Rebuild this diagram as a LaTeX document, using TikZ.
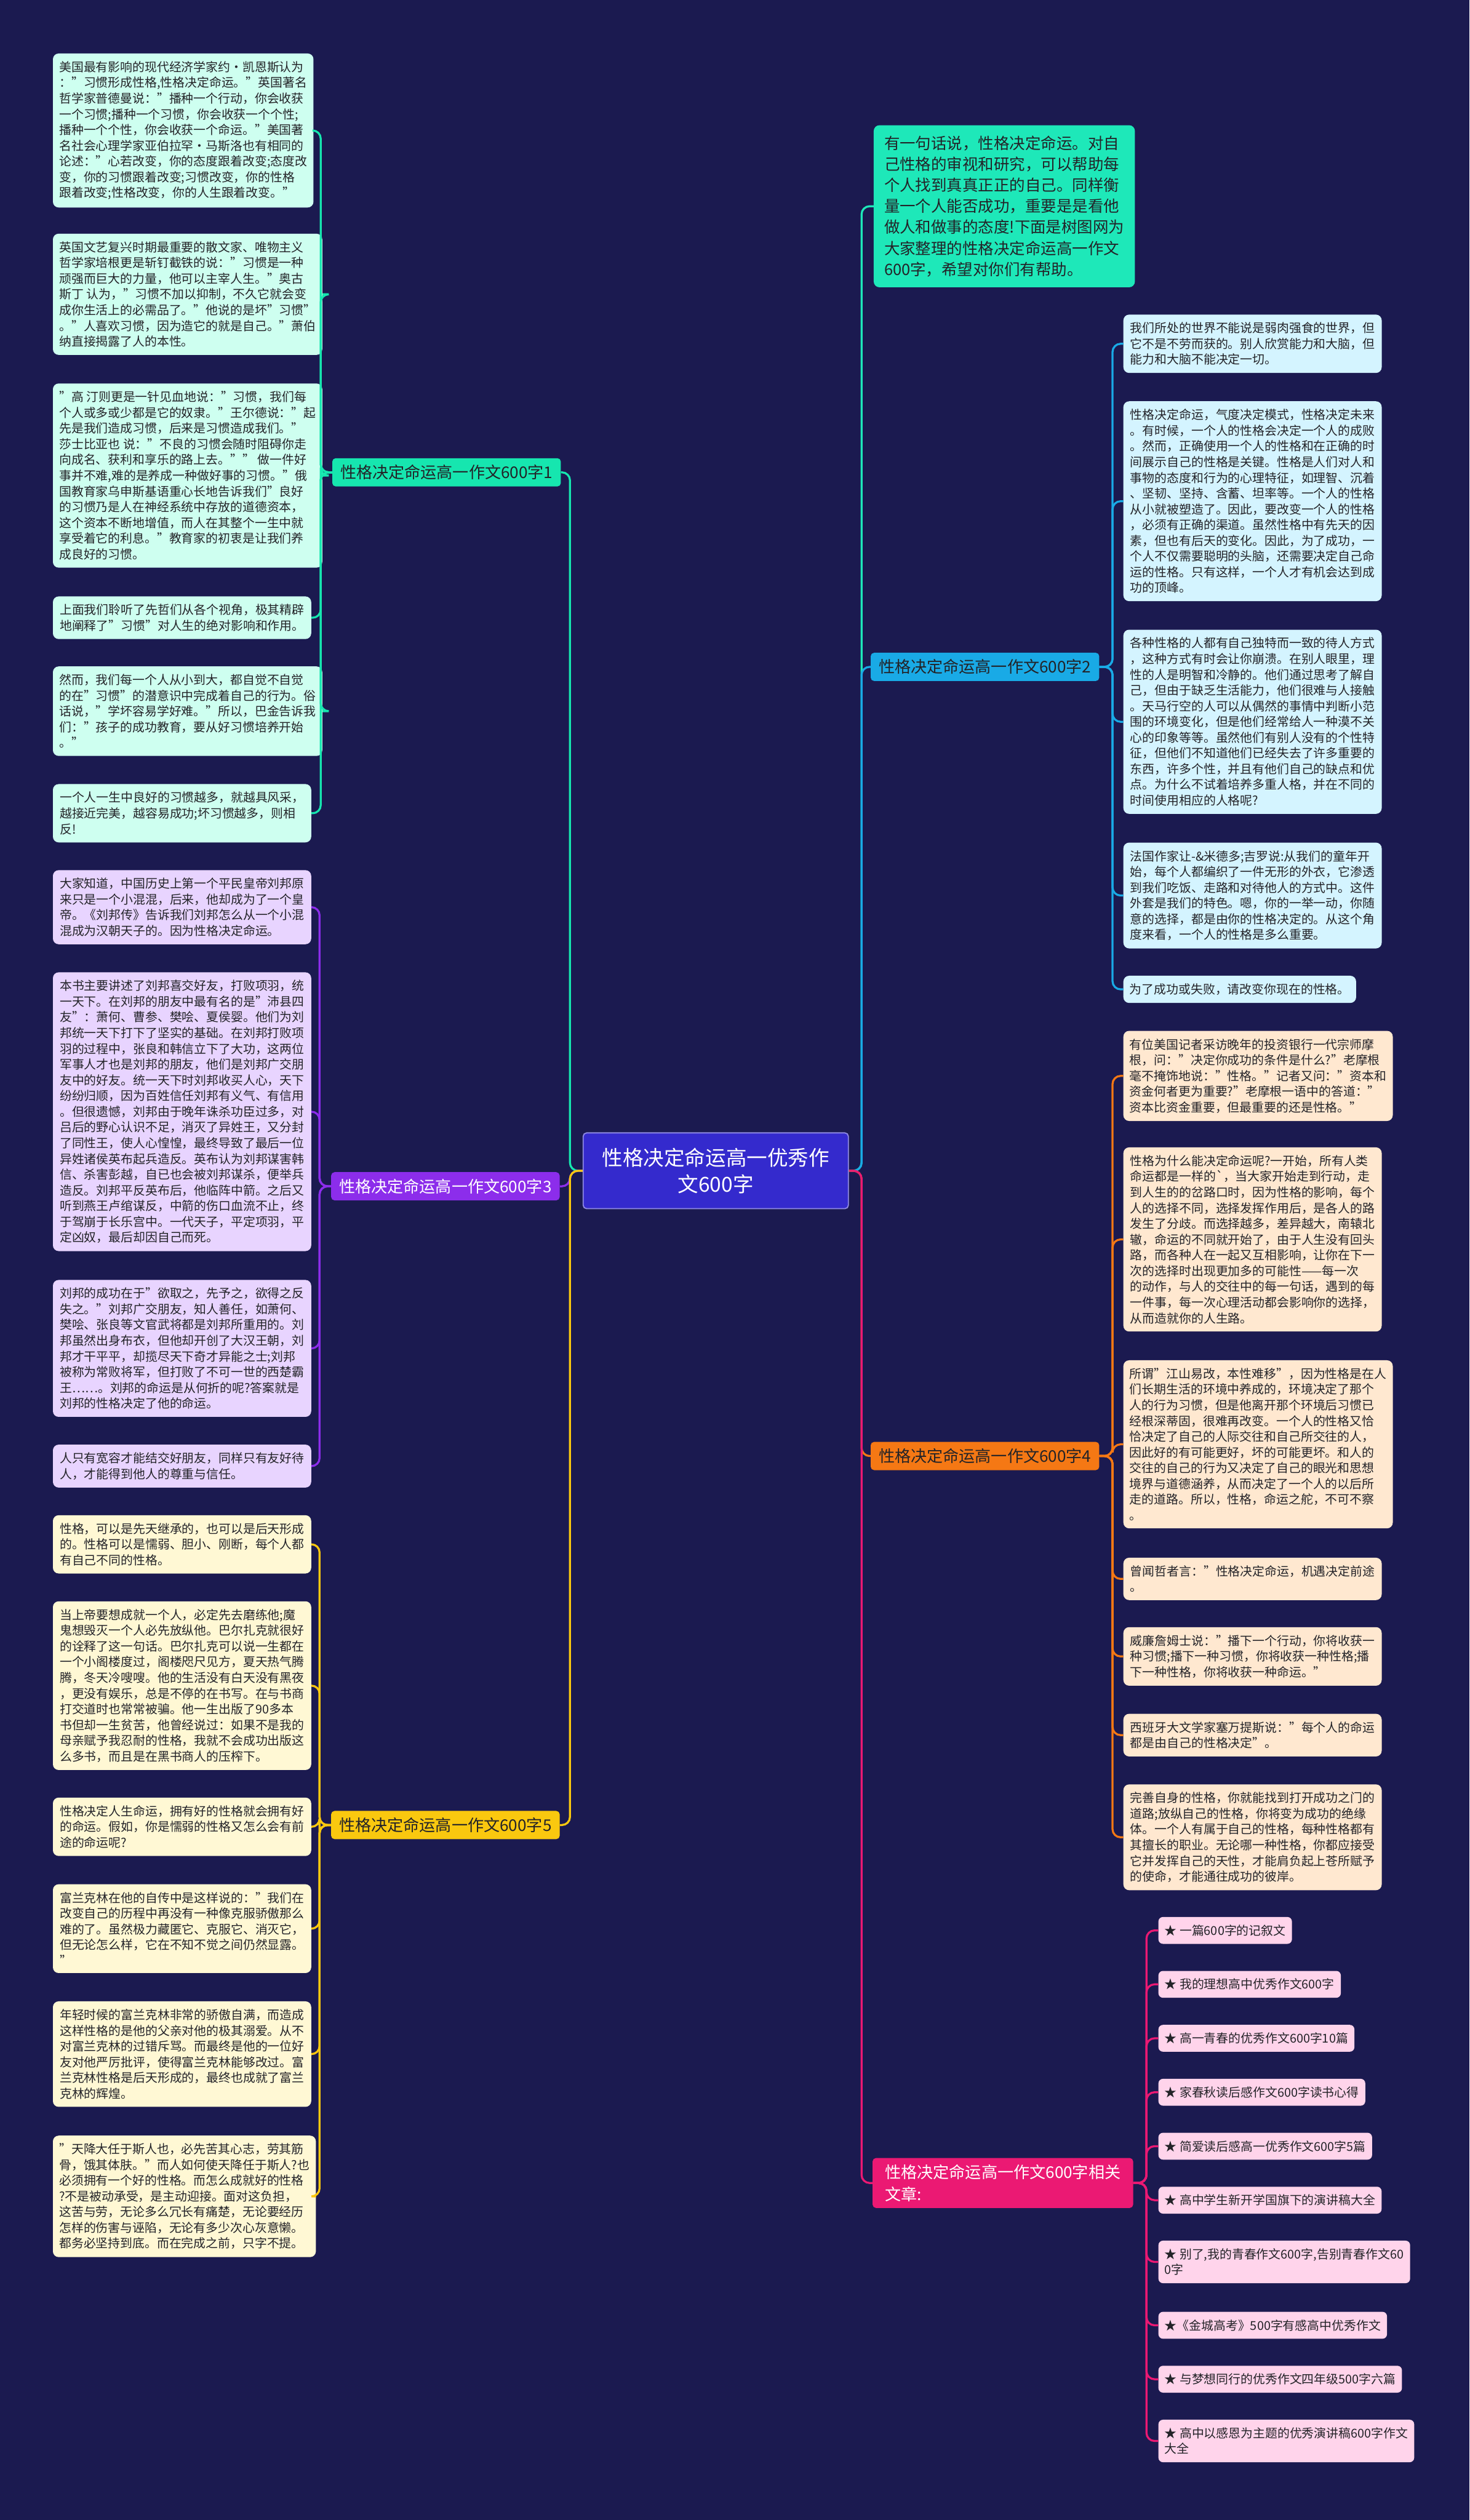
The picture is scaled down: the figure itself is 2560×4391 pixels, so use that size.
\documentclass[tikz,border=0pt]{standalone}
\usepackage{fontspec}
\setmainfont{Noto Sans CJK SC}
\definecolor{bg}{RGB}{27,26,80}
\definecolor{cteal}{RGB}{22,230,175}
\definecolor{lteal}{RGB}{206,255,240}
\definecolor{cpurp}{RGB}{140,45,235}
\definecolor{lpurp}{RGB}{232,212,255}
\definecolor{cyel}{RGB}{250,200,15}
\definecolor{lyel}{RGB}{255,248,212}
\definecolor{cblue}{RGB}{25,170,230}
\definecolor{lblue}{RGB}{212,244,255}
\definecolor{corg}{RGB}{245,120,20}
\definecolor{lorg}{RGB}{255,232,208}
\definecolor{cmag}{RGB}{235,25,115}
\definecolor{lmag}{RGB}{255,212,235}
\definecolor{ccen}{RGB}{52,42,205}
\definecolor{cmint}{RGB}{30,232,185}
\definecolor{tdark}{RGB}{35,35,40}
\begin{document}
\begin{tikzpicture}[x=1pt,y=-1pt,
  leaf/.style={anchor=north west, rounded corners=10pt, align=left, inner xsep=11pt, inner ysep=13.5pt, minimum width=450pt, font=\fontsize{21.3}{27.4}\selectfont, text=tdark},
  star/.style={anchor=north west, rounded corners=8pt, align=left, inner xsep=11pt, inner ysep=13.5pt, fill=lmag, font=\fontsize{21.3}{27.4}\selectfont, text=tdark},
  branch/.style={rounded corners=6pt, inner xsep=14pt, inner ysep=11.5pt, font=\fontsize{28}{34}\selectfont},
  conn/.style={line width=3.5pt, rounded corners=14pt}]
\fill[bg] (0,0) rectangle (2560,4391);

% center
\node[fill=ccen, draw=ccen!55!white, line width=2pt, rounded corners=6pt, text=white, align=center, minimum width=462pt, minimum height=132pt, font=\fontsize{36}{47}\selectfont] (C) at (1247,2040) {性格决定命运高一优秀作\\文600字};

% intro
\node[anchor=north west, fill=cmint, rounded corners=10pt, align=left, inner xsep=15pt, inner ysep=18pt, minimum width=455pt, font=\fontsize{27.3}{36.7}\selectfont, text=tdark] (I) at (1522,218) {有一句话说，性格决定命运。对自\\己性格的审视和研究，可以帮助每\\个人找到真真正正的自己。同样衡\\量一个人能否成功，重要是是看他\\做人和做事的态度!下面是树图网为\\大家整理的性格决定命运高一作文\\600字，希望对你们有帮助。};

% branches
\node[branch, fill=cteal, text=tdark] (B1) at (778,823) {性格决定命运高一作文600字1};
\node[branch, fill=cpurp, text=white] (B3) at (776,2067) {性格决定命运高一作文600字3};
\node[branch, fill=cyel, text=tdark] (B5) at (776,3180) {性格决定命运高一作文600字5};
\node[branch, fill=cblue, text=tdark] (B2) at (1716,1162) {性格决定命运高一作文600字2};
\node[branch, fill=corg, text=tdark] (B4) at (1716,2537) {性格决定命运高一作文600字4};
\node[branch, fill=cmag, text=white, anchor=north west, align=left, minimum width=454pt, font=\fontsize{28}{38}\selectfont] (B6) at (1520,3760) {性格决定命运高一作文600字相关\\文章:};

% group 1 leaves
\node[leaf, fill=lteal] (L1a) at (92,93) {美国最有影响的现代经济学家约·凯恩斯认为\\："习惯形成性格,性格决定命运。"英国著名\\哲学家普德曼说："播种一个行动，你会收获\\一个习惯;播种一个习惯，你会收获一个个性;\\播种一个个性，你会收获一个命运。"美国著\\名社会心理学家亚伯拉罕·马斯洛也有相同的\\论述："心若改变，你的态度跟着改变;态度改\\变，你的习惯跟着改变;习惯改变，你的性格\\跟着改变;性格改变，你的人生跟着改变。"};
\node[leaf, fill=lteal] (L1b) at (92,407) {英国文艺复兴时期最重要的散文家、唯物主义\\哲学家培根更是斩钉截铁的说："习惯是一种\\顽强而巨大的力量，他可以主宰人生。"奥古\\斯丁 认为，"习惯不加以抑制，不久它就会变\\成你生活上的必需品了。"他说的是坏"习惯"\\。"人喜欢习惯，因为造它的就是自己。"萧伯\\纳直接揭露了人的本性。};
\node[leaf, fill=lteal] (L1c) at (92,668) {"高 汀则更是一针见血地说："习惯，我们每\\个人或多或少都是它的奴隶。"王尔德说："起\\先是我们造成习惯，后来是习惯造成我们。"\\莎士比亚也 说："不良的习惯会随时阻碍你走\\向成名、获利和享乐的路上去。"" 做一件好\\事并不难,难的是养成一种做好事的习惯。"俄\\国教育家乌申斯基语重心长地告诉我们"良好\\的习惯乃是人在神经系统中存放的道德资本，\\这个资本不断地增值，而人在其整个一生中就\\享受着它的利息。"教育家的初衷是让我们养\\成良好的习惯。};
\node[leaf, fill=lteal] (L1d) at (92,1039) {上面我们聆听了先哲们从各个视角，极其精辟\\地阐释了"习惯"对人生的绝对影响和作用。};
\node[leaf, fill=lteal] (L1e) at (92,1161) {然而，我们每一个人从小到大，都自觉不自觉\\的在"习惯"的潜意识中完成着自己的行为。俗\\话说，"学坏容易学好难。"所以，巴金告诉我\\们："孩子的成功教育，要从好习惯培养开始\\。"};
\node[leaf, fill=lteal] (L1f) at (92,1366) {一个人一生中良好的习惯越多，就越具风采，\\越接近完美，越容易成功;坏习惯越多，则相\\反!};

% group 3 leaves
\node[leaf, fill=lpurp] (L3a) at (92,1516) {大家知道，中国历史上第一个平民皇帝刘邦原\\来只是一个小混混，后来，他却成为了一个皇\\帝。《刘邦传》告诉我们刘邦怎么从一个小混\\混成为汉朝天子的。因为性格决定命运。};
\node[leaf, fill=lpurp] (L3b) at (92,1694) {本书主要讲述了刘邦喜交好友，打败项羽，统\\一天下。在刘邦的朋友中最有名的是"沛县四\\友"：萧何、曹参、樊哙、夏侯婴。他们为刘\\邦统一天下打下了坚实的基础。在刘邦打败项\\羽的过程中，张良和韩信立下了大功，这两位\\军事人才也是刘邦的朋友，他们是刘邦广交朋\\友中的好友。统一天下时刘邦收买人心，天下\\纷纷归顺，因为百姓信任刘邦有义气、有信用\\。但很遗憾，刘邦由于晚年诛杀功臣过多，对\\吕后的野心认识不足，消灭了异姓王，又分封\\了同性王，使人心惶惶，最终导致了最后一位\\异姓诸侯英布起兵造反。英布认为刘邦谋害韩\\信、杀害彭越，自已也会被刘邦谋杀，便举兵\\造反。刘邦平反英布后，他临阵中箭。之后又\\听到燕王卢绾谋反，中箭的伤口血流不止，终\\于驾崩于长乐宫中。一代天子，平定项羽，平\\定凶奴，最后却因自己而死。};
\node[leaf, fill=lpurp] (L3c) at (92,2230) {刘邦的成功在于"欲取之，先予之，欲得之反\\失之。"刘邦广交朋友，知人善任，如萧何、\\樊哙、张良等文官武将都是刘邦所重用的。刘\\邦虽然出身布衣，但他却开创了大汉王朝，刘\\邦才干平平，却揽尽天下奇才异能之士;刘邦\\被称为常败将军，但打败了不可一世的西楚霸\\王……。刘邦的命运是从何折的呢?答案就是\\刘邦的性格决定了他的命运。};
\node[leaf, fill=lpurp] (L3d) at (92,2517) {人只有宽容才能结交好朋友，同样只有友好待\\人，才能得到他人的尊重与信任。};

% group 5 leaves
\node[leaf, fill=lyel] (L5a) at (92,2640) {性格，可以是先天继承的，也可以是后天形成\\的。性格可以是懦弱、胆小、刚断，每个人都\\有自己不同的性格。};
\node[leaf, fill=lyel] (L5b) at (92,2790) {当上帝要想成就一个人，必定先去磨练他;魔\\鬼想毁灭一个人必先放纵他。巴尔扎克就很好\\的诠释了这一句话。巴尔扎克可以说一生都在\\一个小阁楼度过，阁楼咫尺见方，夏天热气腾\\腾，冬天冷嗖嗖。他的生活没有白天没有黑夜\\，更没有娱乐，总是不停的在书写。在与书商\\打交道时也常常被骗。他一生出版了90多本\\书但却一生贫苦，他曾经说过：如果不是我的\\母亲赋予我忍耐的性格，我就不会成功出版这\\么多书，而且是在黑书商人的压榨下。};
\node[leaf, fill=lyel] (L5c) at (92,3132) {性格决定人生命运，拥有好的性格就会拥有好\\的命运。假如，你是懦弱的性格又怎么会有前\\途的命运呢?};
\node[leaf, fill=lyel] (L5d) at (92,3283) {富兰克林在他的自传中是这样说的："我们在\\改变自己的历程中再没有一种像克服骄傲那么\\难的了。虽然极力藏匿它、克服它、消灭它，\\但无论怎么样，它在不知不觉之间仍然显露。\\"};
\node[leaf, fill=lyel] (L5e) at (92,3487) {年轻时候的富兰克林非常的骄傲自满，而造成\\这样性格的是他的父亲对他的极其溺爱。从不\\对富兰克林的过错斥骂。而最终是他的一位好\\友对他严厉批评，使得富兰克林能够改过。富\\兰克林性格是后天形成的，最终也成就了富兰\\克林的辉煌。};
\node[leaf, fill=lyel] (L5f) at (92,3721) {"天降大任于斯人也，必先苦其心志，劳其筋\\骨，饿其体肤。"而人如何使天降任于斯人?也\\必须拥有一个好的性格。而怎么成就好的性格\\?不是被动承受，是主动迎接。面对这负担，\\这苦与劳，无论多么冗长有痛楚，无论要经历\\怎样的伤害与诬陷，无论有多少次心灰意懒。\\都务必坚持到底。而在完成之前，只字不提。};

% group 2 leaves
\node[leaf, fill=lblue] (R2a) at (1957,548) {我们所处的世界不能说是弱肉强食的世界，但\\它不是不劳而获的。别人欣赏能力和大脑，但\\能力和大脑不能决定一切。};
\node[leaf, fill=lblue] (R2b) at (1957,699) {性格决定命运，气度决定模式，性格决定未来\\。有时候，一个人的性格会决定一个人的成败\\。然而，正确使用一个人的性格和在正确的时\\间展示自己的性格是关键。性格是人们对人和\\事物的态度和行为的心理特征，如理智、沉着\\、坚韧、坚持、含蓄、坦率等。一个人的性格\\从小就被塑造了。因此，要改变一个人的性格\\，必须有正确的渠道。虽然性格中有先天的因\\素，但也有后天的变化。因此，为了成功，一\\个人不仅需要聪明的头脑，还需要决定自己命\\运的性格。只有这样，一个人才有机会达到成\\功的顶峰。};
\node[leaf, fill=lblue] (R2c) at (1957,1097) {各种性格的人都有自己独特而一致的待人方式\\，这种方式有时会让你崩溃。在别人眼里，理\\性的人是明智和冷静的。他们通过思考了解自\\己，但由于缺乏生活能力，他们很难与人接触\\。天马行空的人可以从偶然的事情中判断小范\\围的环境变化，但是他们经常给人一种漠不关\\心的印象等等。虽然他们有别人没有的个性特\\征，但他们不知道他们已经失去了许多重要的\\东西，许多个性，并且有他们自己的缺点和优\\点。为什么不试着培养多重人格，并在不同的\\时间使用相应的人格呢?};
\node[leaf, fill=lblue] (R2d) at (1957,1468) {法国作家让-\&米德多;吉罗说:从我们的童年开\\始，每个人都编织了一件无形的外衣，它渗透\\到我们吃饭、走路和对待他人的方式中。这件\\外套是我们的特色。嗯，你的一举一动，你随\\意的选择，都是由你的性格决定的。从这个角\\度来看，一个人的性格是多么重要。};
\node[leaf, fill=lblue, minimum width=0pt] (R2e) at (1957,1700) {为了成功或失败，请改变你现在的性格。};

% group 4 leaves
\node[leaf, fill=lorg] (R4a) at (1957,1796) {有位美国记者采访晚年的投资银行一代宗师摩\\根，问："决定你成功的条件是什么?"老摩根\\毫不掩饰地说："性格。"记者又问："资本和\\资金何者更为重要?"老摩根一语中的答道："\\资本比资金重要，但最重要的还是性格。"};
\node[leaf, fill=lorg] (R4b) at (1957,1999) {性格为什么能决定命运呢?一开始，所有人类\\命运都是一样的\textasciigrave，当大家开始走到行动，走\\到人生的的岔路口时，因为性格的影响，每个\\人的选择不同，选择发挥作用后，是各人的路\\发生了分歧。而选择越多，差异越大，南辕北\\辙，命运的不同就开始了，由于人生没有回头\\路，而各种人在一起又互相影响，让你在下一\\次的选择时出现更加多的可能性——每一次\\的动作，与人的交往中的每一句话，遇到的每\\一件事，每一次心理活动都会影响你的选择，\\从而造就你的人生路。};
\node[leaf, fill=lorg] (R4c) at (1957,2370) {所谓"江山易改，本性难移"，因为性格是在人\\们长期生活的环境中养成的，环境决定了那个\\人的行为习惯，但是他离开那个环境后习惯已\\经根深蒂固，很难再改变。一个人的性格又恰\\恰决定了自己的人际交往和自己所交往的人，\\因此好的有可能更好，坏的可能更坏。和人的\\交往的自己的行为又决定了自己的眼光和思想\\境界与道德涵养，从而决定了一个人的以后所\\走的道路。所以，性格，命运之舵，不可不察\\。};
\node[leaf, fill=lorg] (R4d) at (1957,2714) {曾闻哲者言："性格决定命运，机遇决定前途\\。};
\node[leaf, fill=lorg] (R4e) at (1957,2835) {威廉詹姆士说："播下一个行动，你将收获一\\种习惯;播下一种习惯，你将收获一种性格;播\\下一种性格，你将收获一种命运。"};
\node[leaf, fill=lorg] (R4f) at (1957,2986) {西班牙大文学家塞万提斯说："每个人的命运\\都是由自己的性格决定"。};
\node[leaf, fill=lorg] (R4g) at (1957,3109) {完善自身的性格，你就能找到打开成功之门的\\道路;放纵自己的性格，你将变为成功的绝缘\\体。一个人有属于自己的性格，每种性格都有\\其擅长的职业。无论哪一种性格，你都应接受\\它并发挥自己的天性，才能肩负起上苍所赋予\\的使命，才能通往成功的彼岸。};

% group 6 star nodes
\node[star] (S1) at (2018,3340) {★ 一篇600字的记叙文};
\node[star] (S2) at (2018,3434) {★ 我的理想高中优秀作文600字};
\node[star] (S3) at (2018,3528) {★ 高一青春的优秀作文600字10篇};
\node[star] (S4) at (2018,3622) {★ 家春秋读后感作文600字读书心得};
\node[star] (S5) at (2018,3716) {★ 简爱读后感高一优秀作文600字5篇};
\node[star] (S6) at (2018,3810) {★ 高中学生新开学国旗下的演讲稿大全};
\node[star] (S7) at (2018,3904) {★ 别了,我的青春作文600字,告别青春作文60\\0字};
\node[star] (S8) at (2018,4028) {★《金城高考》500字有感高中优秀作文};
\node[star] (S9) at (2018,4122) {★ 与梦想同行的优秀作文四年级500字六篇};
\node[star] (S10) at (2018,4216) {★ 高中以感恩为主题的优秀演讲稿600字作文\\大全};

% center connectors
\draw[conn, cteal] (C.west) -- ++(-22,0) |- (B1.east);
\draw[conn, cpurp] (C.west) -- ++(-22,0) |- (B3.east);
\draw[conn, cyel] (C.west) -- ++(-22,0) |- (B5.east);
\draw[conn, cmint] (C.east) -- ++(22,0) |- (I.west);
\draw[conn, cblue] (C.east) -- ++(22,0) |- (B2.west);
\draw[conn, corg] (C.east) -- ++(22,0) |- (B4.west);
\draw[conn, cmag] (C.east) -- ++(22,0) |- (B6.west);

% branch connectors
\foreach \n in {L1a,L1b,L1c,L1d,L1e,L1f}{\draw[conn, cteal] (B1.west) -- ++(-20,0) |- (\n.east);}
\foreach \n in {L3a,L3b,L3c,L3d}{\draw[conn, cpurp] (B3.west) -- ++(-20,0) |- (\n.east);}
\foreach \n in {L5a,L5b,L5c,L5d,L5e,L5f}{\draw[conn, cyel] (B5.west) -- ++(-20,0) |- (\n.east);}
\foreach \n in {R2a,R2b,R2c,R2d,R2e}{\draw[conn, cblue] (B2.east) -- ++(23,0) |- (\n.west);}
\foreach \n in {R4a,R4b,R4c,R4d,R4e,R4f,R4g}{\draw[conn, corg] (B4.east) -- ++(23,0) |- (\n.west);}
\foreach \n in {S1,S2,S3,S4,S5,S6,S7,S8,S9,S10}{\draw[conn, cmag] (B6.east) -- ++(23,0) |- (\n.west);}
\end{tikzpicture}
\end{document}
